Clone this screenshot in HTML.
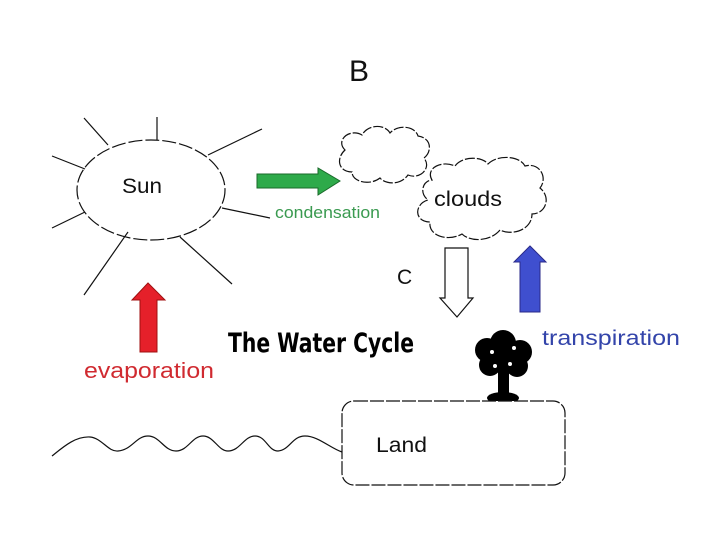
<!DOCTYPE html>
<html><head><meta charset="utf-8"><style>
html,body{margin:0;padding:0;background:#fff;}
svg{display:block;font-family:"Liberation Sans","DejaVu Sans",sans-serif;}
</style></head><body>
<svg width="720" height="540" viewBox="0 0 720 540" xmlns="http://www.w3.org/2000/svg">
<rect width="720" height="540" fill="#fff"/>
<text x="349" y="81" font-size="30" fill="#111">B</text>
<g stroke="#111" stroke-width="1.2" fill="none">
<ellipse cx="151" cy="190" rx="74" ry="50" stroke-dasharray="14 3"/>
<line x1="157" y1="117" x2="157" y2="140"/>
<line x1="84" y1="118" x2="108" y2="145"/>
<line x1="52" y1="156" x2="85" y2="169"/>
<line x1="208" y1="155" x2="262" y2="129"/>
<line x1="222" y1="208" x2="270" y2="218"/>
<line x1="52" y1="228" x2="85" y2="212"/>
<line x1="128" y1="232" x2="84" y2="295"/>
<line x1="180" y1="237" x2="232" y2="284"/>
</g>
<text x="122" y="193" font-size="21" fill="#111" textLength="40" lengthAdjust="spacingAndGlyphs">Sun</text>
<polygon points="257,174 318,174 318,168 340,181 318,195 318,188 257,188" fill="#2eaa4a" stroke="#1a6a2a" stroke-width="1"/>
<text x="275" y="218" font-size="17" fill="#3a9a50" textLength="105" lengthAdjust="spacingAndGlyphs">condensation</text>
<g stroke="#111" stroke-width="1.2" fill="#fff" stroke-dasharray="10 2">
<path d="M345,150 C335,140 350,128 362,135 C368,124 385,124 390,133 C398,124 415,126 418,136 C432,138 432,152 424,158 C432,168 420,180 408,175 C400,186 385,184 380,178 C370,186 352,182 352,172 C338,172 336,158 345,150 Z"/>
<path d="M432,180 C425,168 442,160 455,166 C462,156 482,156 488,164 C498,154 520,156 525,166 C540,162 548,178 540,188 C552,198 545,214 532,214 C532,230 512,236 500,230 C490,242 470,242 462,234 C448,242 428,236 430,222 C414,222 414,204 428,200 C418,192 424,180 432,180 Z"/>
</g>
<text x="434" y="206" font-size="21" fill="#111" textLength="68" lengthAdjust="spacingAndGlyphs">clouds</text>
<text x="397" y="284" font-size="21" fill="#111">C</text>
<polygon points="445,248 468,248 468,298 473,298 457,317 440,298 445,298" fill="#fff" stroke="#111" stroke-width="1.2"/>
<polygon points="520,312 540,312 540,262 546,262 530,246 514,262 520,262" fill="#3f4fcf" stroke="#2a2a8a" stroke-width="1"/>
<text x="542" y="345" font-size="21" fill="#3344aa" textLength="138" lengthAdjust="spacingAndGlyphs">transpiration</text>
<polygon points="140,352 157,352 157,300 165,300 148,283 132,300 140,300" fill="#e5202a" stroke="#a01010" stroke-width="1"/>
<text x="84" y="378" font-size="22" fill="#d02a30" textLength="130" lengthAdjust="spacingAndGlyphs">evaporation</text>
<text x="228" y="352" font-size="27" font-weight="bold" fill="#000" font-family="'DejaVu Sans Condensed','Liberation Sans Narrow',sans-serif" textLength="186" lengthAdjust="spacingAndGlyphs">The Water Cycle</text>
<g fill="#000">
<circle cx="503" cy="343" r="13"/><circle cx="487" cy="350" r="12"/><circle cx="520" cy="352" r="12"/>
<circle cx="490" cy="365" r="11"/><circle cx="517" cy="366" r="11"/><circle cx="503" cy="358" r="12"/>
<rect x="498" y="365" width="11" height="30"/>
<ellipse cx="503" cy="398" rx="16" ry="6"/>
</g>
<g fill="#fff"><circle cx="492" cy="352" r="2"/><circle cx="514" cy="348" r="2"/><circle cx="510" cy="364" r="2"/><circle cx="495" cy="366" r="2"/></g>
<rect x="342" y="401" width="223" height="84" rx="12" fill="#fff" stroke="#111" stroke-width="1.2" stroke-dasharray="14 2"/>
<text x="376" y="452" font-size="21" fill="#111" textLength="51" lengthAdjust="spacingAndGlyphs">Land</text>
<path d="M52,456 C62,448 75,436 90,437 C102,438 108,452 118,451 C132,450 136,436 148,436 C160,436 164,451 176,451 C188,451 192,436 203,436 C214,436 218,451 228,451 C240,451 244,436 255,436 C266,436 268,451 278,451 C290,450 292,436 305,436 C318,436 330,448 342,452" fill="none" stroke="#111" stroke-width="1.2"/>
</svg>
</body></html>
